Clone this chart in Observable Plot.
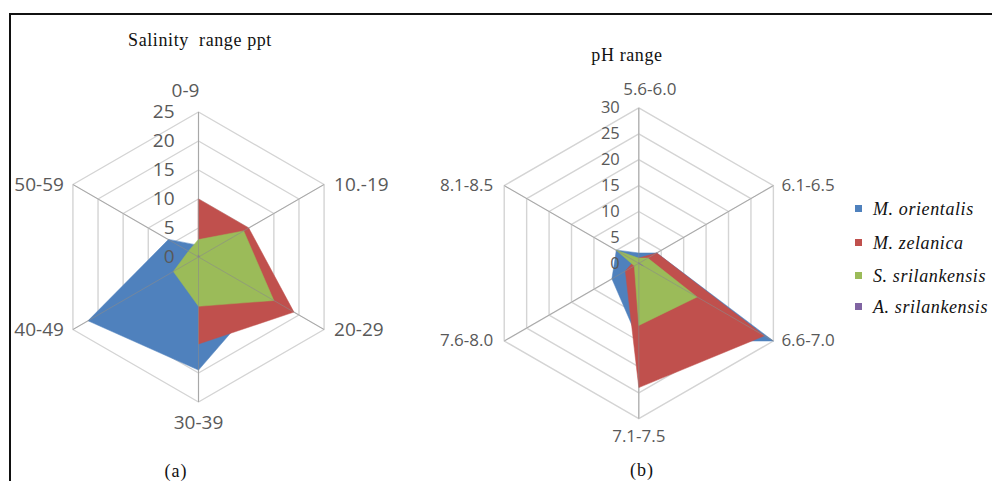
<!DOCTYPE html>
<html><head><meta charset="utf-8">
<script src="https://cdn.jsdelivr.net/npm/d3@7"></script>
<script src="https://cdn.jsdelivr.net/npm/@observablehq/plot@0.6"></script>
<style>
body{margin:0;background:#fff;}
#wrap{position:relative;width:992px;height:481px;overflow:hidden;background:#fff;}
.abs{position:absolute;}
.title{font-family:"Liberation Serif",serif;color:#111;white-space:nowrap;transform:translate(-50%,-50%);}
.leg{position:absolute;left:855px;font-family:"Liberation Serif",serif;font-style:italic;font-size:18px;letter-spacing:0.6px;color:#111;white-space:nowrap;}
.leg span{display:inline-block;width:7px;height:7px;margin-right:11px;vertical-align:middle;position:relative;top:-2px;}
</style></head><body><div id="wrap"></div>
<script>
const species = ["M. orientalis", "M. zelanica", "S. srilankensis", "A. srilankensis"];
const colors = ["#4F81BD", "#C0504D", "#9BBB59", "#8064A2"];

const salinityCats = ["0-9", "10.-19", "20-29", "30-39", "40-49", "50-59"];
const salOrientalis = [2, 2, 13, 19.5, 22, 6];
const salZelanica = [10, 10, 19, 15, 0, 0];
const salSSrilankensis = [3, 9, 15, 8.5, 5, 2];
const salASrilankensis = [0.3, 0.2, 0, 0, 0, 0];
const salTicks = [0, 5, 10, 15, 20, 25];

const phCats = ["5.6-6.0", "6.1-6.5", "6.6-7.0", "7.1-7.5", "7.6-8.0", "8.1-8.5"];
const phOrientalis = [2, 4, 30, 15, 6, 5];
const phZelanica = [1, 4, 28, 24, 3, 1];
const phSSrilankensis = [1, 2, 13, 12, 1, 5];
const phASrilankensis = [0, 0, 1, 0, 0, 0];
const phTicks = [0, 5, 10, 15, 20, 25, 30];

const wrap = document.getElementById("wrap");

function pt(v, i, n) {
  const a = 2 * Math.PI * i / n;
  return {x: v * Math.sin(a), y: v * Math.cos(a)};
}

function radar(o) {
  const n = o.cats.length;
  const max = o.ticks[o.ticks.length - 1];
  const rings = o.ticks.filter(t => t > 0).flatMap(t => o.cats.map((c, i) => ({r: t, ...pt(t, i, n)})));
  const spokes = o.cats.map((c, i) => ({...pt(max, i, n)}));
  const marks = [
    Plot.line(rings, {x: "x", y: "y", z: "r", stroke: "#d4d4d4", strokeWidth: 1.4, curve: "linear-closed"}),
    Plot.link(spokes, {x1: 0, y1: 0, x2: "x", y2: "y", stroke: "#d4d4d4", strokeWidth: 1.4})
  ];
  o.series.forEach((vals, s) => {
    marks.push(Plot.line(vals.map((v, i) => pt(v, i, n)), {x: "x", y: "y", fill: colors[s], stroke: colors[s], strokeWidth: 0.5, curve: "linear-closed"}));
  });
  marks.push(Plot.link(spokes, {x1: 0, y1: 0, x2: "x", y2: "y", stroke: "#8a8a8a", strokeOpacity: 0.6, strokeWidth: 1}));
  marks.push(Plot.text(o.ticks, {x: 0, y: d => d, text: d => String(d), textAnchor: "end", dx: o.tickDx, fill: "#595959", fontSize: o.tickSize, fontFamily: "Open Sans"}));
  const lab = o.cats.map((c, i) => ({c, i, ...pt(max, i, n)}));
  const common = {x: "x", y: "y", text: "c", fill: "#595959", fontSize: o.catSize, fontFamily: "Open Sans"};
  marks.push(Plot.text(lab.filter(d => d.i === 0), {...common, textAnchor: "middle", dx: o.topDx, dy: -o.vGap}));
  marks.push(Plot.text(lab.filter(d => d.i === n / 2), {...common, textAnchor: "middle", dy: o.vGap}));
  marks.push(Plot.text(lab.filter(d => d.i > 0 && d.i < n / 2), {...common, textAnchor: "start", dx: o.sideGapR}));
  marks.push(Plot.text(lab.filter(d => d.i > n / 2), {...common, textAnchor: "end", dx: -o.sideGapL}));
  const W = o.width, H = 481;
  const svg = Plot.plot({
    width: W, height: H, margin: 0,
    x: {domain: [-o.cx / o.k, (W - o.cx) / o.k], axis: null},
    y: {domain: [-(H - o.cy) / o.k, o.cy / o.k], axis: null},
    style: {background: "transparent", overflow: "visible"},
    marks
  });
  svg.style.position = "absolute";
  svg.style.left = o.left + "px";
  svg.style.top = "0px";
  wrap.appendChild(svg);
}

radar({cats: salinityCats, series: [salOrientalis, salZelanica, salSSrilankensis, salASrilankensis], ticks: salTicks,
  k: 5.8, cx: 198, cy: 256.5, left: 0, width: 420, tickDx: -24, tickSize: 19, catSize: 19, topDx: -13, vGap: 21, sideGapR: 10, sideGapL: 9});
radar({cats: phCats, series: [phOrientalis, phZelanica, phSSrilankensis, phASrilankensis], ticks: phTicks,
  k: 5.18, cx: 218.3, cy: 262.8, left: 420, width: 420, tickDx: -19, tickSize: 16.5, catSize: 17, topDx: 11, vGap: 18, sideGapR: 8, sideGapL: 11});

function addDiv(cls, text, css) {
  const d = document.createElement("div");
  d.className = cls; d.textContent = text;
  Object.assign(d.style, css);
  wrap.appendChild(d);
  return d;
}
addDiv("abs", "", {left: "9px", top: "13px", width: "983px", height: "1.5px", background: "#111"});
addDiv("abs", "", {left: "9px", top: "13px", width: "1.5px", height: "468px", background: "#111"});
addDiv("abs title", "Salinity  range ppt", {left: "200px", top: "40px", fontSize: "18px", letterSpacing: "0.6px", whiteSpace: "pre"});
addDiv("abs title", "pH range", {left: "627px", top: "55px", fontSize: "18px", letterSpacing: "0.6px"});
addDiv("abs title", "(a)", {left: "176px", top: "471px", fontSize: "18px", letterSpacing: "1px"});
addDiv("abs title", "(b)", {left: "642px", top: "470px", fontSize: "18px", letterSpacing: "1px"});

const legY = [210, 244, 277, 308];
species.forEach((s, i) => {
  const d = document.createElement("div");
  d.className = "leg";
  d.style.top = (legY[i] - 11) + "px";
  const sw = document.createElement("span");
  sw.style.background = colors[i];
  d.appendChild(sw);
  d.appendChild(document.createTextNode(s));
  wrap.appendChild(d);
});
</script></body></html>
